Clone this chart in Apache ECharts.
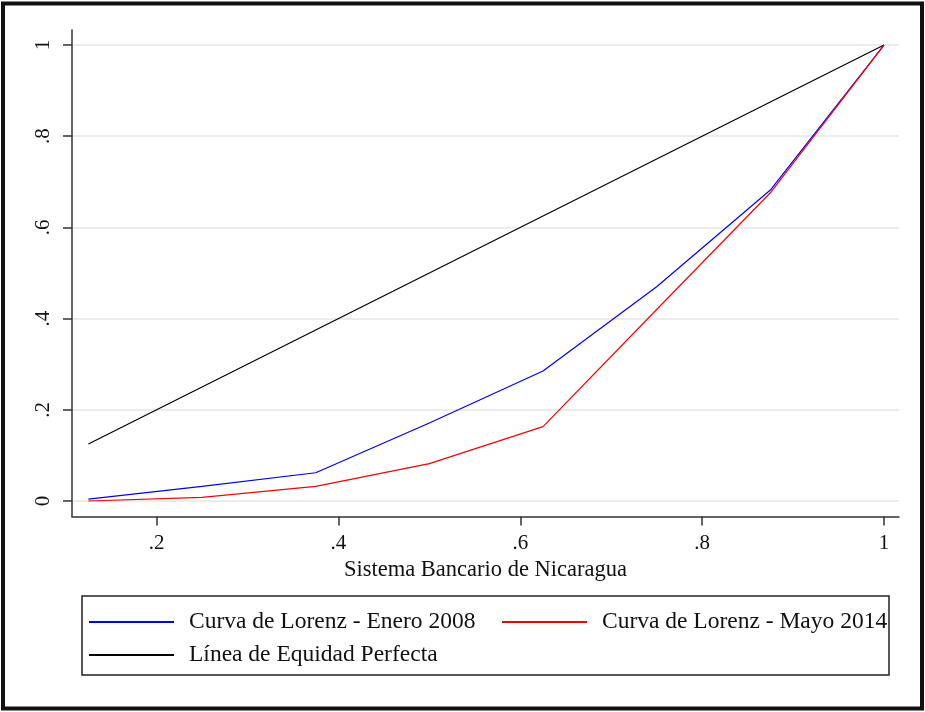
<!DOCTYPE html>
<html>
<head>
<meta charset="utf-8">
<script src="https://cdn.jsdelivr.net/npm/echarts@6/dist/echarts.min.js"></script>
<style>
  html, body { margin: 0; padding: 0; background: #fff; }
  #chart { width: 925px; height: 712px; }
</style>
</head>
<body>
<div id="chart"></div>
<script>
// ---- Data ----
const shares = [0.125, 0.25, 0.375, 0.5, 0.625, 0.75, 0.875, 1];
const enero2008 = [0.004, 0.032, 0.062, 0.171, 0.285, 0.47, 0.682, 1];
const mayo2014 = [0, 0.008, 0.032, 0.082, 0.163, 0.42, 0.676, 1];
const equidad = [0.125, 0.25, 0.375, 0.5, 0.625, 0.75, 0.875, 1];
const xTicks = [0.2, 0.4, 0.6, 0.8, 1];
const yTicks = [0, 0.2, 0.4, 0.6, 0.8, 1];
const seriesNames = ['Curva de Lorenz - Enero 2008', 'Curva de Lorenz - Mayo 2014', 'Línea de Equidad Perfecta'];
const xTitle = 'Sistema Bancario de Nicaragua';

const pairs = (xs, ys) => xs.map((x, i) => [x, ys[i]]);
const fmt = v => {
  if (Math.abs(v) < 1e-9) return '0';
  if (Math.abs(v - 1) < 1e-9) return '1';
  return String(+v.toFixed(1)).replace(/^0/, '');
};

const FONT = '"Liberation Serif", "DejaVu Serif", serif';
const chart = echarts.init(document.getElementById('chart'), null, { renderer: 'canvas' });

chart.setOption({
  animation: false,
  backgroundColor: '#fff',
  textStyle: { fontFamily: FONT },
  grid: { left: 72, right: 26, top: 30, bottom: 195.5, containLabel: false },
  xAxis: {
    type: 'value',
    min: 0.107, max: 1.0165,
    name: xTitle,
    nameLocation: 'middle',
    nameGap: 40,
    nameTextStyle: { fontFamily: FONT, fontSize: 22.5, color: '#111' },
    axisLine: { show: true, onZero: false, lineStyle: { color: '#333', width: 1.5 } },
    axisTick: { show: true, length: 9, customValues: xTicks, lineStyle: { color: '#333', width: 1.5 } },
    axisLabel: { customValues: xTicks, formatter: fmt, margin: 16, fontFamily: FONT, fontSize: 21, color: '#111' },
    splitLine: { show: false }
  },
  yAxis: {
    type: 'value',
    min: -0.034, max: 1.033,
    axisLine: { show: true, onZero: false, lineStyle: { color: '#333', width: 1.5 } },
    axisTick: { show: true, length: 9, customValues: yTicks, lineStyle: { color: '#333', width: 1.5 } },
    axisLabel: { customValues: yTicks, formatter: fmt, rotate: 90, margin: 18, fontFamily: FONT, fontSize: 21, color: '#111' },
    splitLine: { show: true, lineStyle: { color: '#e6e6e6', width: 1.5 } }
  },
  legend: {
    left: 83, top: 605, width: 830,
    orient: 'horizontal',
    itemWidth: 85, itemHeight: 14, itemGap: 9,
    itemStyle: { opacity: 0 },
    textStyle: { fontFamily: FONT, fontSize: 23.5, color: '#111', width: 303, lineHeight: 20, padding: [0, 0, 0, 10] },
    data: seriesNames
  },
  graphic: [
    { type: 'rect', shape: { x: 82, y: 596, width: 807, height: 79 }, style: { fill: 'none', stroke: '#222', lineWidth: 1.5 }, silent: true, z: -1 },
    { type: 'rect', shape: { x: 3, y: 3.5, width: 919, height: 705 }, style: { fill: 'none', stroke: '#111', lineWidth: 4 }, silent: true }
  ],
  series: [
    { name: seriesNames[0], type: 'line', data: pairs(shares, enero2008), symbol: 'none', lineStyle: { color: '#0000ff', width: 1.2 }, itemStyle: { color: '#0000ff' }, z: 3 },
    { name: seriesNames[1], type: 'line', data: pairs(shares, mayo2014), symbol: 'none', lineStyle: { color: '#ff0000', width: 1.2 }, itemStyle: { color: '#ff0000' }, z: 4 },
    { name: seriesNames[2], type: 'line', data: pairs(shares, equidad), symbol: 'none', lineStyle: { color: '#000000', width: 1.2 }, itemStyle: { color: '#000000' }, z: 2 }
  ]
});
</script>
</body>
</html>
